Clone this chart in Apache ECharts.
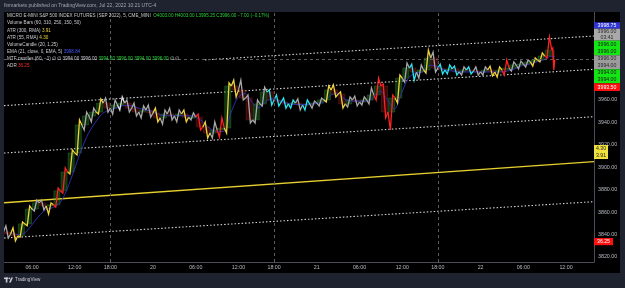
<!DOCTYPE html>
<html><head><meta charset="utf-8">
<script src="https://cdn.jsdelivr.net/npm/echarts@6/dist/echarts.min.js"></script>
<style>html,body{margin:0;padding:0;background:#1f2330;}#c{width:625px;height:288px;}</style>
</head><body><div id="c"></div>
<script>
// ---- data (hourly, x = trading-hour index from Jul 19 02:00, session break skipped) ----
const hourIndex = [0,1,2,3,4,5,6,7,8,9,10,11,12,13,14,15,16,17,18,19,20,21,22,23,24,25,26,27,28,29,30,31,32,33,34,35,36,37,38,39,40,41,42,43,44,45,46,47,48,49,50,51,52,53,54,55,56,57,58,59,60,61,62,63,64,65,66,67,68,69,70,71,72,73,74,75,76,77];
const opens  = [3842.25,3840.5,3838.75,3849.5,3862.75,3868.25,3865.5,3866.5,3879,3895.75,3912.75,3937.75,3945.75,3949.25,3957.25,3952.75,3955.5,3957.25,3952.75,3949.25,3951,3948.5,3944,3947.5,3945.75,3947.5,3944.75,3944.75,3936,3930.5,3933.25,3935,3972.5,3969,3961.75,3942.25,3956.5,3967.25,3960,3958.25,3956.5,3957.25,3955.5,3956.5,3957.25,3960,3969,3965.25,3956.5,3960,3958.25,3960,3964.5,3972.5,3949.25,3961.75,3979.5,3988.5,3985,3986.75,3997.5,3988.5,3986.75,3987.75,3985,3986.75,3985.75,3985,3986.75,3985,3986.75,3988.5,3991.25,3992,3994,3995.75,3999.25,4004.5];
const highs  = [3847.75,3846,3851.25,3865.5,3870.75,3870.75,3868.25,3881.5,3899.5,3915.5,3942.25,3949.25,3952.75,3961,3961.75,3960,3962.75,3960,3957.25,3954.75,3955.5,3952.75,3951,3952.75,3951,3951,3948.5,3947.5,3940.5,3940.5,3944,3975.25,3977.75,3977.75,3964.5,3960,3971.5,3969,3964.5,3961.75,3960,3961,3960,3959,3961.75,3972.5,3973.5,3967.25,3962.75,3963.5,3962.75,3970.75,3979.5,3974.25,3964.5,3982.25,3993,3992,3991.25,4004.5,4002.75,3992,3991.25,3990.25,3989.5,3989.5,3989.5,3989.5,3990.25,3989.5,3995.75,3994,3994.75,3995.75,3997.5,4002,4016.25,4006.25];
const lows   = [3837,3834.25,3837.75,3847.75,3861,3862,3858.25,3864.5,3877,3894,3911,3933.25,3940.5,3947.5,3949.25,3947.5,3951,3949.25,3945.75,3944,3944.75,3940.5,3938.5,3942.25,3940.5,3940.5,3942.25,3933.25,3926,3926,3927,3930.5,3962.75,3960,3939.5,3939.5,3954.75,3955.5,3954.75,3952.75,3952.75,3951,3951,3952.75,3954.75,3958.25,3962.75,3952.75,3953.75,3954.75,3955.5,3956.5,3960,3944,3933.25,3957.25,3976,3977.75,3979.5,3984,3985,3983.25,3983.25,3982.25,3982.25,3983.25,3982.25,3982.25,3981.5,3980.5,3982.25,3985.75,3987.75,3989.5,3990.25,3994,3997.5,3986.75];
const closes = [3840.5,3838.75,3849.5,3862.75,3868.25,3865.5,3866.5,3879,3895.75,3912.75,3937.75,3945.75,3949.25,3957.25,3952.75,3955.5,3957.25,3952.75,3949.25,3951,3948.5,3944,3947.5,3945.75,3947.5,3944.75,3944.75,3936,3930.5,3933.25,3935,3972.5,3969,3961.75,3942.25,3956.5,3967.25,3960,3958.25,3956.5,3957.25,3955.5,3956.5,3957.25,3960,3969,3965.25,3956.5,3960,3958.25,3960,3964.5,3972.5,3949.25,3961.75,3979.5,3988.5,3985,3986.75,3997.5,3988.5,3986.75,3987.75,3985,3986.75,3985.75,3985,3986.75,3985,3986.75,3988.5,3991.25,3992,3994,3995.75,3999.25,4004.5,3996];
const volumeClass = ['g','y','y','y','g','g','y','r','r','y','y','g','g','y','g','g','w','g','g','g','g','y','g','g','g','y','g','r','y','g','r','y','y','g','g','g','g','c','c','c','c','g','c','g','g','y','y','y','g','g','g','g','r','r','r','y','g','c','g','y','g','c','c','c','g','c','g','g','y','y','r','g','g','g','y','y','r','r'];
const emaValues = [3842,3840,3841,3848,3856,3862,3864,3868,3880,3897,3915,3930,3940,3948,3951,3953,3955,3955,3953,3951,3950,3947,3946,3946,3946,3946,3945,3941,3935,3932,3932,3948,3962,3966,3958,3953,3959,3961,3959,3957,3956,3956,3956,3957,3958,3964,3966,3961,3959,3959,3959,3962,3968,3960,3952,3966,3980,3984,3985,3991,3990,3987,3986,3985,3985,3985,3985,3985,3985,3985,3986,3988,3991,3992,3994,3996,3999,3998.84];
const lastBarEnd = 77.42;
const lastPrice = 3996.0;

// trend lines (hour, price)
const lineAHours = [28.3, 82.93], lineAPrices = [3995.8, 4017.1];
const lineBHours = [0.07, 82.93], lineBPrices = [3955.0, 3987.4];
const lineCHours = [0.07, 82.93], lineCPrices = [3912.7, 3945.1];
const lineDHours = [0.07, 82.93], lineDPrices = [3836.9, 3869.3];
const yellowHours = [0.07, 82.93], yellowPrices = [3868.4, 3905.0];
const sessionStartHours = [15, 38, 61];

// axis ticks
const timeTickHours = [4,10,15,21,27,33,38,44,50,56,61,67,73,79];
const timeLabels = ['06:00','12:00','18:00','20','06:00','12:00','18:00','21','06:00','12:00','18:00','22','06:00','12:00'];
const priceTicks = [3820,3840,3860,3880,3900,3920,3940,3960];

// ---- rendering ----
const colorMap = {g:'#a8a8a8', w:'#dedede', y:'#f0d23a', r:'#ff2323', c:'#2de3ef'};
const ohlc = hourIndex.map((h,i)=>[h, opens[i], highs[i], lows[i], closes[i], i]);

function pricePath(params, api){
  const h = api.value(0), o = api.value(1), hi = api.value(2), lo = api.value(3), c = api.value(4);
  const i = api.value(5);
  const span = Math.min(1, lastBarEnd - h);
  const up = c >= o;
  const pts = up ? [[h,o],[h+span*0.33,lo],[h+span*0.67,hi],[h+span,c]]
                 : [[h,o],[h+span*0.33,hi],[h+span*0.67,lo],[h+span,c]];
  return {type:'polyline', shape:{points: pts.map(p=>api.coord(p))},
    style:{stroke: colorMap[volumeClass[i]], lineWidth:1.3, fill:null}};
}
function mtfBox(params, api){
  const h = api.value(0), o = api.value(1), c = api.value(4);
  const span = Math.min(1, lastBarEnd - h);
  const p1 = api.coord([h, Math.max(o,c)]);
  const p2 = api.coord([h+span, Math.min(o,c)]);
  const up = c >= o;
  return {type:'rect', shape:{x:p1[0]+0.5, y:p1[1], width:Math.max(1,p2[0]-p1[0]-1), height:Math.max(1,p2[1]-p1[1])},
    style:{fill: up?'rgba(40,150,40,0.34)':'rgba(160,25,25,0.34)', stroke: up?'rgba(70,180,70,0.45)':'rgba(180,40,40,0.5)', lineWidth:0.6}};
}
const seg = (hs, ps) => hs.map((h,i)=>[h, ps[i]]);
const dotted = {color:'#d4d4d4', width:1.1, type:[1.5,2]};

const FONT = '"Liberation Sans", Arial, sans-serif';
const LF = 4.6;
function boxLabel(x, y, w, h, fill, lines, txt){
  const els = [{type:'rect', shape:{x:x, y:y, width:w, height:h}, style:{fill:fill}}];
  lines.forEach((t,k)=>{
    els.push({type:'text', x:x+w/2, y:y + h*(k+0.5)/lines.length, style:{text:t, fill:txt, fontSize:5.2, fontFamily:FONT, textAlign:'center', textVerticalAlign:'middle'}});
  });
  return els;
}
const legendLines = [
  '{a|MICRO E-MINI S&P 500 INDEX FUTURES (SEP 2022), 5, CME_MINI}{g|  O4003.00 H4003.00 L3995.25 C3996.00 −7.00 (−0.17%)}',
  '{a|Volume Bars (60, 310, 250, 150, 50)}',
  '{a|ATR (300, RMA)}{y| 3.91}',
  '{a|ATR (55, RMA)}{y| 4.30}',
  '{a|VolumeCandle (20, 1.25)}',
  '{a|EMA (21, close, 0, EMA, 5)}{b| 3998.84}',
  '{a|MTF candles (60, −1) ∅ ∅ 3994.00 3996.00}{g| 3994.00 3996.00 3994.00 3996.00}{a| ∅ ∅}',
  '{a|ADR}{r| 36.25}'
];
const rich = {a:{fill:'#c8cad0', fontSize:LF, fontFamily:FONT}, g:{fill:'#2bd13c', fontSize:LF, fontFamily:FONT},
  y:{fill:'#e8d43c', fontSize:LF, fontFamily:FONT}, b:{fill:'#4a56f5', fontSize:LF, fontFamily:FONT}, r:{fill:'#ff2b2b', fontSize:LF, fontFamily:FONT}};

const graphics = [
  {type:'rect', shape:{x:0,y:0,width:625,height:12}, style:{fill:'#1f2330'}, z:100},
  {type:'rect', shape:{x:0,y:273,width:625,height:15}, style:{fill:'#1f2330'}, z:100},
  {type:'rect', shape:{x:0,y:0,width:4,height:288}, style:{fill:'#1f2330'}, z:100},
  {type:'rect', shape:{x:620,y:0,width:5,height:288}, style:{fill:'#1f2330'}, z:100},
  {type:'text', x:4, y:6, z:101, style:{text:'finmarkets published on TradingView.com, Jul 22, 2022 10:21 UTC-4', fill:'#a3a6af', fontSize:5.0, fontFamily:FONT, textVerticalAlign:'middle'}},
  {type:'rect', shape:{x:4,y:277.5,width:4,height:1.6}, style:{fill:'#c8cad0'}, z:101},
  {type:'rect', shape:{x:5.8,y:277.5,width:1.6,height:5}, style:{fill:'#c8cad0'}, z:101},
  {type:'circle', shape:{cx:9.3,cy:278.3,r:0.9}, style:{fill:'#c8cad0'}, z:101},
  {type:'polygon', shape:{points:[[11.2,277.5],[13,277.5],[10.8,282.5],[9,282.5]]}, style:{fill:'#c8cad0'}, z:101},
  {type:'text', x:15, y:280, z:101, style:{text:'TradingView', fill:'#c8cad0', fontSize:4.6, fontFamily:FONT, textVerticalAlign:'middle'}}
];
legendLines.forEach((t,k)=>{
  graphics.push({type:'text', x:7, y:16 + k*7.15, z:50, style:{text:t, rich:rich, textVerticalAlign:'middle'}});
});
[
  [594,22.3,26,6.4,'#2f34d6',['3998.75'],'#ffffff'],
  [594,28.7,26,12,'#a9a9a9',['3996.00','03:41'],'#2a2a2a'],
  [594,40.7,26,14.6,'#14e614',['3996.00','3996.00'],'#1a1a1a'],
  [594,55.3,26,14,'#9c9c9c',['3996.00','3994.00'],'#2a2a2a'],
  [594,69.3,26,14,'#14e614',['3994.00','3994.00'],'#1a1a1a'],
  [594,83.3,26,7.7,'#ff1010',['3993.50'],'#ffffff'],
  [594,145,14,14,'#f0e040',['4.30','3.91'],'#1a1a1a'],
  [594,238,19,7.2,'#ff1010',['36.25'],'#ffffff']
].forEach(a=>{ boxLabel(...a).forEach(e=>{e.z=60; graphics.push(e);}); });

const chart = echarts.init(document.getElementById('c'), null, {renderer:'canvas'});
chart.setOption({
  backgroundColor:'#000',
  animation:false,
  grid:{left:4, right:31, top:12, bottom:26},
  xAxis:{type:'value', min:0.067, max:82.93,
    axisLine:{show:true, onZero:false, lineStyle:{color:'#4a4d57', width:1}},
    axisTick:{show:false}, splitLine:{show:false},
    axisLabel:{customValues:timeTickHours, margin:3, color:'#b8bbc4', fontSize:5.3, fontFamily:FONT,
      formatter:v=>timeLabels[timeTickHours.indexOf(v)]}},
  yAxis:{type:'value', position:'right', min:3815.5, max:4038.5, scale:true,
    axisLine:{show:true, lineStyle:{color:'#4a4d57', width:1}},
    axisTick:{show:false}, splitLine:{show:false},
    axisLabel:{customValues:priceTicks, margin:4, color:'#b8bbc4', fontSize:5.3, fontFamily:FONT,
      formatter:v=>v.toFixed(2)}},
  graphic:graphics,
  series:[
    {type:'line', data:seg(lineDHours,lineDPrices), showSymbol:false, lineStyle:dotted, z:1,
      markLine:{silent:true, symbol:'none', label:{show:false},
        data:[...sessionStartHours.map(h=>({xAxis:h})), {yAxis:lastPrice}],
        lineStyle:{color:'#5c5c5c', type:[3,3], width:1}}},
    {type:'line', data:seg(lineCHours,lineCPrices), showSymbol:false, lineStyle:dotted, z:1},
    {type:'line', data:seg(lineBHours,lineBPrices), showSymbol:false, lineStyle:dotted, z:1},
    {type:'line', data:seg(lineAHours,lineAPrices), showSymbol:false, lineStyle:dotted, z:1},
    {type:'line', data:seg(yellowHours,yellowPrices), showSymbol:false, lineStyle:{color:'#e6cf2e', width:1.4}, z:1},
    {type:'custom', renderItem:mtfBox, data:ohlc, encode:{x:0, y:[1,2,3,4]}, z:2},
    {type:'line', data:hourIndex.map((h,i)=>[Math.min(h+0.9,lastBarEnd), emaValues[i]]), showSymbol:false, smooth:0.3,
      lineStyle:{color:'#2b2fa8', width:1}, z:3},
    {type:'custom', renderItem:pricePath, data:ohlc, encode:{x:0, y:[1,2,3,4]}, z:4}
  ]
});
</script></body></html>
